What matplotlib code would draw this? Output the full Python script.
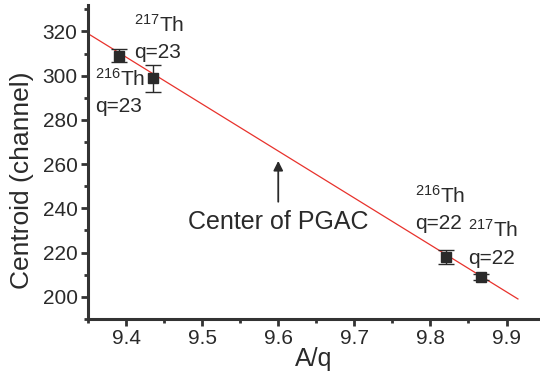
import matplotlib
matplotlib.use("Agg")
import matplotlib.pyplot as plt
from matplotlib.ticker import MultipleLocator
import numpy as np

plt.rcParams['font.family'] = ['Liberation Sans', 'DejaVu Sans']
plt.rcParams['mathtext.fontset'] = 'custom'
plt.rcParams['mathtext.rm'] = 'Liberation Sans'
plt.rcParams['mathtext.it'] = 'Liberation Sans'

# Data
a_over_q = [9.391, 9.436, 9.820, 9.866]
centroid = [309.0, 298.8, 218.0, 209.0]
centroid_err = [3.0, 6.0, 3.0, 1.5]
labels = [r'$^{217}$Th' + '\nq=23', r'$^{216}$Th' + '\nq=23',
          r'$^{216}$Th' + '\nq=22', r'$^{217}$Th' + '\nq=22']
label_pos = [(9.411, 328.0), (9.359, 303.5), (9.780, 250.5), (9.849, 235.0)]
fit_slope = -212.4
fit_intercept = 319.0 + 212.4 * 9.35
fit_range = [9.35, 9.915]
pgac_center = 9.60
arrow_head = 262.7
arrow_tail = 241.7
pgac_text_y = 233.6

fig = plt.figure(figsize=(5.4, 3.76), dpi=100)
ax = fig.add_axes([0.163, 0.152, 0.837, 0.835])

dark = '#2a2a2a'
fx = np.array(fit_range)
ax.plot(fx, fit_intercept + fit_slope * fx, color='#e8322c', lw=0.9, zorder=2)
ax.errorbar(a_over_q, centroid, yerr=centroid_err, fmt='s', color=dark,
            ms=6.5, capsize=5.5, elinewidth=1.0, capthick=1.0, zorder=3)

for lab, (lx, ly) in zip(labels, label_pos):
    ax.text(lx, ly, lab, fontsize=15, color=dark, ha='left', va='top',
            linespacing=1.5)

ax.annotate('', xy=(pgac_center, arrow_head), xytext=(pgac_center, arrow_tail),
            arrowprops=dict(arrowstyle='-|>', color=dark, lw=1.3,
                            mutation_scale=14))
ax.text(pgac_center, pgac_text_y, 'Center of PGAC', fontsize=18, color=dark,
        ha='center', va='center')

ax.set_xlim(9.35, 9.944)
ax.set_ylim(190, 332)
ax.xaxis.set_major_locator(MultipleLocator(0.1))
ax.xaxis.set_minor_locator(MultipleLocator(0.05))
ax.yaxis.set_major_locator(MultipleLocator(20))
ax.yaxis.set_minor_locator(MultipleLocator(10))
ax.set_xticks([9.4, 9.5, 9.6, 9.7, 9.8, 9.9])

for s in ['top', 'right']:
    ax.spines[s].set_visible(False)
for s in ['left', 'bottom']:
    ax.spines[s].set_linewidth(2.2)
    ax.spines[s].set_color('#333333')
ax.tick_params(which='major', direction='out', length=5, width=2,
               color='#333333', labelsize=15, labelcolor=dark, pad=2.5)
ax.tick_params(which='minor', direction='out', length=3, width=2,
               color='#333333')

ax.set_xlabel('A/q', fontsize=18, color=dark, labelpad=-1)
ax.set_ylabel('Centroid (channel)', fontsize=19, color=dark)
ax.yaxis.set_label_coords(-0.12, 0.443)

fig.savefig('out.png', dpi=100)
